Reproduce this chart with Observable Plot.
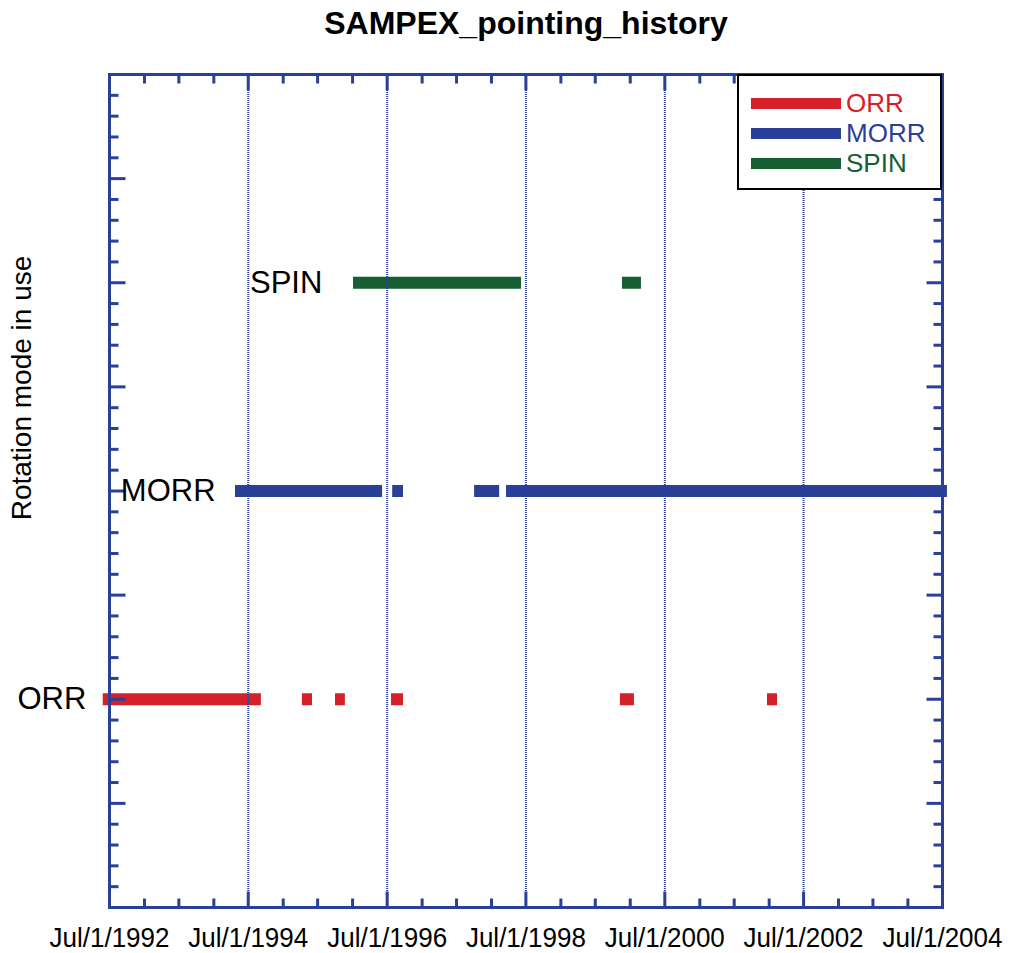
<!DOCTYPE html>
<html><head><meta charset="utf-8">
<script src="https://cdn.jsdelivr.net/npm/d3@7"></script>
<script src="https://cdn.jsdelivr.net/npm/@observablehq/plot@0.6"></script>
<style>
body{margin:0;background:#fff;}
#wrap{position:relative;width:1014px;height:953px;overflow:hidden;}
#wrap svg{position:absolute;left:0;top:0;}
#legend{position:absolute;left:737px;top:74px;width:205px;height:116px;border:2px solid #000;background:#fff;box-sizing:border-box;font-family:"Liberation Sans",Arial,sans-serif;}
.sw{position:absolute;left:12px;width:90px;height:11px;}
.lt{position:absolute;left:107px;font-size:26px;line-height:26px;}
</style></head><body><div id="wrap"></div>
<script>
const title = "SAMPEX_pointing_history";
const yLabel = "Rotation mode in use";
const modes = ["ORR", "MORR", "SPIN"];
const modeLevels = [1, 2, 3];
const modeColors = ["#d5202a", "#2a3f98", "#155f32"];
const labelDates = ["1992-03-01", "1994-01-10", "1995-07-26"];

const orrStart = ["1992-05-29", "1995-04-12", "1995-10-03", "1996-07-24", "1999-11-10", "2001-12-23"];
const orrEnd   = ["1994-09-08", "1995-06-04", "1995-11-24", "1996-09-25", "2000-01-23", "2002-02-14"];
const morrStart = ["1994-04-25", "1996-07-30", "1997-10-04", "1998-03-21"];
const morrEnd   = ["1996-06-07", "1996-09-25", "1998-02-13", "2004-07-27"];
const spinStart = ["1996-01-06", "1999-11-21"];
const spinEnd   = ["1998-06-08", "2000-02-29"];

const xTickDates = ["1992-07-01", "1994-07-01", "1996-07-01", "1998-07-01", "2000-07-01", "2002-07-01", "2004-07-01"];
const xTickLabels = ["Jul/1/1992", "Jul/1/1994", "Jul/1/1996", "Jul/1/1998", "Jul/1/2000", "Jul/1/2002", "Jul/1/2004"];
const xMinorDates = ["1993-01-01","1993-07-01","1994-01-01","1995-01-01","1995-07-01","1996-01-01","1997-01-01","1997-07-01","1998-01-01","1999-01-01","1999-07-01","2000-01-01","2001-01-01","2001-07-01","2002-01-01","2003-01-01","2003-07-01","2004-01-01"];
const yMajorTicks = [0, 0.5, 1, 1.5, 2, 2.5, 3, 3.5, 4];
const yMinorTicks = d3.range(0, 41).map(i => i / 10).filter(v => Math.abs(v * 2 - Math.round(v * 2)) > 1e-6);

const axisBlue = "#2a3f98";
const D = s => new Date(s);
const xDomain = [D("1992-07-01"), D("2004-07-01")];

const segments = [];
[[orrStart, orrEnd], [morrStart, morrEnd], [spinStart, spinEnd]].forEach(([s, e], i) => {
  s.forEach((d, j) => segments.push({mode: modes[i], level: modeLevels[i], start: D(d), end: D(e[j])}));
});
const catLabels = modes.map((m, i) => ({mode: m, level: modeLevels[i], x: D(labelDates[i])}));
const xTicks = xTickDates.map((d, i) => ({x: D(d), label: xTickLabels[i]}));
const gridDates = xTickDates.slice(1, -1).map(D);
const tickLine = {draw(ctx, l) { ctx.moveTo(0, 0); ctx.lineTo(0, -l); }};
const tickOpts = {anchor: "start", shape: tickLine, stroke: axisBlue, strokeWidth: 3, strokeLinecap: "butt"};

const chart = Plot.plot({
  width: 1014, height: 953,
  marginLeft: 109, marginRight: 72, marginTop: 74, marginBottom: 46,
  x: {type: "utc", domain: xDomain, axis: null},
  y: {domain: [0, 4], axis: null},
  color: {domain: modes, range: modeColors},
  style: {fontFamily: "'Liberation Sans', Arial, sans-serif", background: "white", overflow: "visible"},
  marks: [
    Plot.ruleY(segments, {y: "level", x1: "start", x2: "end", stroke: "mode", strokeWidth: 12}),
    Plot.ruleX(gridDates, {x: d => d, stroke: axisBlue, strokeWidth: 2, strokeDasharray: "1,1"}),
    Plot.frame({stroke: axisBlue, strokeWidth: 3}),
    Plot.vector(xMinorDates.map(D), {x: d => d, y: () => 0, length: 9, rotate: 0, ...tickOpts}),
    Plot.vector(xTickDates.map(D), {x: d => d, y: () => 0, length: 16, rotate: 0, ...tickOpts}),
    Plot.vector(xMinorDates.map(D), {x: d => d, y: () => 4, length: 9, rotate: 180, ...tickOpts}),
    Plot.vector(xTickDates.map(D), {x: d => d, y: () => 4, length: 16, rotate: 180, ...tickOpts}),
    Plot.vector(yMinorTicks, {x: () => xDomain[0], y: d => d, length: 9, rotate: 90, ...tickOpts}),
    Plot.vector(yMajorTicks, {x: () => xDomain[0], y: d => d, length: 16, rotate: 90, ...tickOpts}),
    Plot.vector(yMinorTicks, {x: () => xDomain[1], y: d => d, length: 9, rotate: -90, ...tickOpts}),
    Plot.vector(yMajorTicks, {x: () => xDomain[1], y: d => d, length: 16, rotate: -90, ...tickOpts}),
    Plot.text(xTicks, {x: "x", y: () => 0, text: "label", dy: 31, lineAnchor: "middle", fontSize: 27, fill: "#000"}),
    Plot.text(catLabels, {x: "x", y: "level", text: "mode", textAnchor: "end", lineAnchor: "middle", fontSize: 31, fill: "#000"}),
    Plot.text([title], {frameAnchor: "top", dy: -51, lineAnchor: "middle", fontSize: 32, fontWeight: "bold", fill: "#000"}),
    Plot.text([yLabel], {frameAnchor: "left", dx: -87, dy: -103, rotate: -90, lineAnchor: "middle", textAnchor: "middle", fontSize: 28, fill: "#000"})
  ]
});
const wrap = document.getElementById("wrap");
wrap.appendChild(chart);

// condense the date labels like the reference's narrow face
chart.querySelectorAll("text").forEach(t => {
  if (xTickLabels.includes(t.textContent)) {
    t.setAttribute("textLength", 120);
    t.setAttribute("lengthAdjust", "spacingAndGlyphs");
  }
});

const legend = document.createElement("div");
legend.id = "legend";
modes.forEach((m, i) => {
  const sw = document.createElement("div");
  sw.className = "sw";
  sw.style.top = (21.5 + 30 * i) + "px";
  sw.style.background = modeColors[i];
  legend.appendChild(sw);
  const t = document.createElement("div");
  t.className = "lt";
  t.style.top = (14 + 30 * i) + "px";
  t.style.color = modeColors[i];
  t.textContent = m;
  legend.appendChild(t);
});
wrap.appendChild(legend);
</script>
</body></html>
